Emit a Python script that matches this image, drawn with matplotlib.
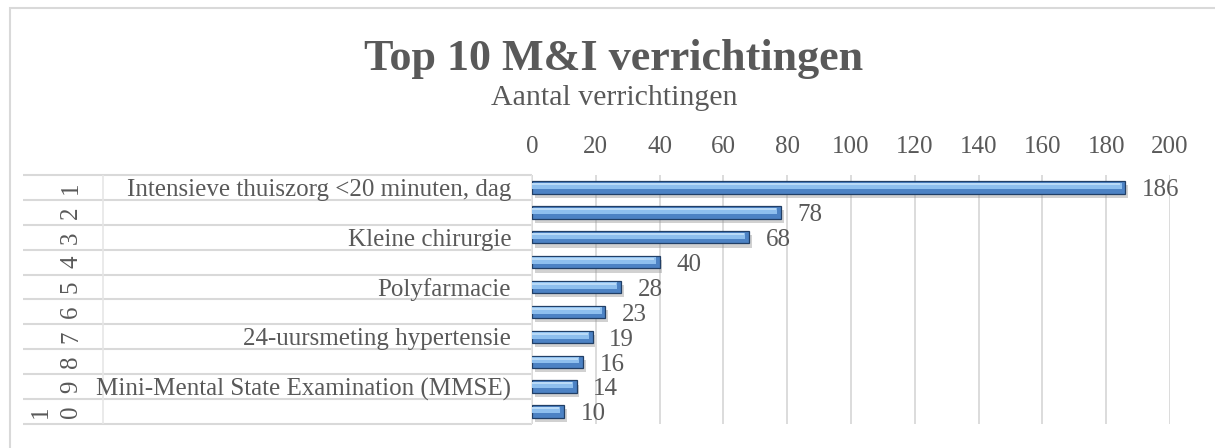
import matplotlib.pyplot as plt
import matplotlib.patheffects as pe
from matplotlib.patches import Rectangle

# data
ranks = ["1", "2", "3", "4", "5", "6", "7", "8", "9", "10"]
names = ["Intensieve thuiszorg <20 minuten, dag", "", "Kleine chirurgie", "",
         "Polyfarmacie", "", "24-uursmeting hypertensie", "",
         "Mini-Mental State Examination (MMSE)", ""]
values = [186, 78, 68, 40, 28, 23, 19, 16, 14, 10]
xticks = [0, 20, 40, 60, 80, 100, 120, 140, 160, 180, 200]

txt = "#595959"
grid = "#D9D9D9"
W, H = 1215, 448

plt.rcParams['font.family'] = ['Liberation Serif', 'DejaVu Serif']

fig = plt.figure(figsize=(W / 100, H / 100), dpi=100)
ax = fig.add_axes([532 / W, 1 - 424 / H, 638 / W, 249 / H])

# chart border (only top and left visible)
fig.patches.append(Rectangle((10 / W, -0.1), 1.2, 1 - 8 / H + 0.1,
                             transform=fig.transFigure, fill=False,
                             edgecolor=grid, lw=1.5))

pos = list(range(len(values)))
shadow = [pe.SimplePatchShadow(offset=(2, -3), shadow_rgbFace="#8c8c8c", alpha=0.4), pe.Normal()]
bars = ax.barh(pos, values, height=0.5, color="#4C82C4", edgecolor="#213F66",
               lw=0.9, zorder=3)
for b in bars:
    b.set_path_effects(shadow)
# light upper band to mimic the bevel
ax.barh([p - 0.06 for p in pos], [v - 1.2 for v in values], height=0.26,
        color="#8EBFEE", lw=0, zorder=4)
ax.barh([p - 0.13 for p in pos], [v - 1.6 for v in values], height=0.08,
        color="#B9DAF7", lw=0, zorder=4)

for p, v in zip(pos, values):
    ax.annotate(str(v), (v, p), xytext=(12, -2), textcoords="offset points",
                ha="left", va="center", fontsize=18, color=txt, zorder=5)

ax.set_xlim(0, 200)
ax.set_ylim(len(values) - 0.5, -0.5)
ax.set_xticks(xticks)
ax.xaxis.tick_top()
ax.tick_params(axis="x", length=0, pad=12, labelsize=18, labelcolor=txt)
ax.set_yticks(pos, names)
ax.tick_params(axis="y", length=0, pad=15, labelsize=18, labelcolor=txt)
for lab in ax.get_yticklabels():
    lab.set_zorder(5)
ax.grid(axis="x", color=grid, lw=1.3, zorder=0)
for s in ax.spines.values():
    s.set_visible(False)

# category table lines
yt = ax.get_yaxis_transform()
bounds = [p - 0.5 for p in pos] + [pos[-1] + 0.5]
ax.hlines(bounds, (23 - 532) / 638, 0, transform=yt, color=grid, lw=1.5,
          clip_on=False, zorder=1)
ax.vlines([(103 - 532) / 638, 0], -0.5, pos[-1] + 0.5, transform=yt, color="#E6E6E6",
          lw=1.2, clip_on=False, zorder=1)

# outer level (rank numbers, rotated)
for p, r in zip(pos, ranks):
    ax.text((82 - 532) / 638, p, "\n".join(r), transform=yt, rotation=90,
            ha="right", va="center", fontsize=18, color=txt, linespacing=1.45)

fig.text(614 / W, 1 - 70 / H, "Top 10 M&I verrichtingen", ha="center",
         va="baseline", fontsize=31.8, fontweight="bold", color=txt)
fig.text(614 / W, 1 - 105 / H, "Aantal verrichtingen", ha="center",
         va="baseline", fontsize=21.5, color=txt)

fig.savefig("out.png", dpi=100)
